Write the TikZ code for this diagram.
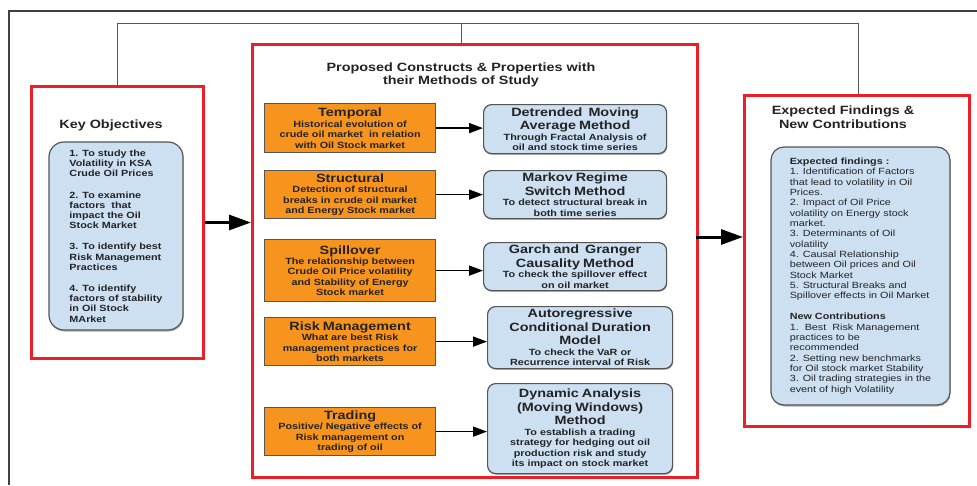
\documentclass[tikz,border=0pt]{standalone}
\usepackage{fontspec}
\setmainfont{Liberation Sans}[FakeStretch=1.2]
\usetikzlibrary{arrows.meta,shadows}

\definecolor{framered}{RGB}{236,30,38}
\definecolor{boxorange}{RGB}{247,148,30}
\definecolor{boxblue}{RGB}{205,224,242}
\definecolor{edgegray}{RGB}{85,85,85}
\definecolor{ink}{RGB}{35,35,35}

\tikzset{
  redbox/.style={draw=framered, line width=3pt, anchor=north west, inner sep=0pt},
  orangebox/.style={draw=edgegray, fill=boxorange, line width=1.2pt, anchor=north west,
    minimum width=171, inner sep=1pt, text width=167, align=center, text=ink,
    font=\fontsize{9}{10.4}\selectfont\bfseries},
  methodbox/.style={draw=edgegray, fill=boxblue, line width=1.2pt, rounded corners=8pt,
    anchor=north west, inner sep=1pt, text width=178, align=center, text=ink,
    font=\fontsize{9}{10.5}\selectfont\bfseries,
    drop shadow={shadow xshift=0.6pt, shadow yshift=-1.2pt, opacity=0.45, fill=black!70}},
  listbox/.style={draw=edgegray, fill=boxblue, line width=1.2pt, text=ink,
    drop shadow={shadow xshift=0.6pt, shadow yshift=-1.5pt, opacity=0.45, fill=black!70}},
  heading/.style={text=ink, align=center, inner sep=0pt, font=\fontsize{12}{13.5}\selectfont\bfseries},
  smallarrow/.style={draw=black, line width=1.6pt, -{Triangle[length=14pt,width=10pt]}},
  bigarrow/.style={draw=black, line width=3pt, -{Triangle[length=22pt,width=15pt]}},
  bus/.style={draw=edgegray, line width=1pt},
  outerframe/.style={draw=black!75, line width=1.5pt}
}
\newcommand{\boxtitle}[1]{{\fontsize{12}{13.5}\selectfont #1\par}}

\begin{document}
\begin{tikzpicture}[x=1pt,y=-1pt]
\useasboundingbox (0,0) rectangle (977,485);

% page frame, open to the right and bottom
\draw[outerframe] (9,485) -- (9,11) -- (977,11);

% the three main panels
\node[redbox, minimum width=172, minimum height=272] (keyobj) at (30,85) {};
\node[redbox, minimum width=445, minimum height=433] (constructs) at (251,43) {};
\node[redbox, minimum width=225, minimum height=331] (findings) at (743,94) {};

% panel headings
\node[heading] (keytitle) at (111,125) {Key Objectives};
\node[heading] (contitle) at (461,75) {Proposed Constructs \& Properties with\\their Methods of Study};
\node[heading] (findtitle) at (843,117) {Expected Findings \&\\New Contributions};

% objectives list
\node[listbox, rounded corners=15pt, minimum width=134, minimum height=188, align=left,
  font=\fontsize{9}{10.2}\selectfont\bfseries] (objlist) at (116,236)
  {1. To study the\\Volatility in KSA\\Crude Oil Prices\\[11pt]
   2. To examine\\factors\ \ that\\impact the Oil\\Stock Market\\[11pt]
   3. To identify best\\Risk Management\\Practices\\[11pt]
   4. To identify\\factors of stability\\in Oil Stock\\MArket};

% findings list
\node[listbox, rounded corners=13pt, minimum width=179, minimum height=258, align=left,
  font=\fontsize{9}{10.35}\selectfont] (findlist) at (860.5,276)
  {\textbf{Expected findings :}\\1. Identification of Factors\\that lead to volatility in Oil\\Prices.\\
   2. Impact of Oil Price\\volatility on Energy stock\\market.\\
   3. Determinants of Oil\\volatility\\
   4. Causal Relationship\\between Oil prices and Oil\\Stock Market\\
   5. Structural Breaks and\\Spillover effects in Oil Market\\[10.6pt]
   \textbf{New Contributions}\\1.\ \ Best\ \ Risk Management\\practices to be\\recommended\\
   2. Setting new benchmarks\\for Oil stock market Stability\\
   3. Oil trading strategies in the\\event of high Volatility};

% constructs
\node[orangebox, minimum height=49] (temporal) at (264,103)
  {\boxtitle{Temporal}Historical evolution of\\crude oil market\ \ in relation\\with Oil Stock market};
\node[orangebox, minimum height=48] (structural) at (264,170)
  {\boxtitle{Structural}Detection of structural\\breaks in crude oil market\\and Energy Stock market};
\node[orangebox, minimum height=62] (spillover) at (264,239)
  {\boxtitle{Spillover}The relationship between\\Crude Oil Price volatility\\and Stability of Energy\\Stock market};
\node[orangebox, minimum height=48] (risk) at (264,317)
  {\boxtitle{Risk Management}What are best Risk\\management practices for\\both markets};
\node[orangebox, minimum height=48] (trading) at (264,407)
  {\boxtitle{Trading}Positive/ Negative effects of\\Risk management on\\trading of oil};

% methods of study
\node[methodbox, minimum width=183, minimum height=49] (detrended) at (483,104)
  {\boxtitle{Detrended\ \ Moving\\Average Method}Through Fractal Analysis of\\oil and stock time series};
\node[methodbox, minimum width=183, minimum height=48] (markov) at (483,170)
  {\boxtitle{Markov Regime\\Switch Method}To detect structural break in\\both time series};
\node[methodbox, minimum width=183, minimum height=48] (garch) at (483,242)
  {\boxtitle{Garch and\ \ Granger\\Causality Method}To check the spillover effect\\on oil market};
\node[methodbox, minimum width=185, minimum height=62] (acd) at (487,306)
  {\boxtitle{Autoregressive\\Conditional Duration\\Model}To check the VaR or\\Recurrence interval of Risk};
\node[methodbox, minimum width=185, minimum height=90] (dynamic) at (487,383)
  {\boxtitle{Dynamic Analysis\\(Moving Windows)\\Method}To establish a trading\\strategy for hedging out oil\\production risk and study\\its impact on stock market};

% construct -> method arrows
\draw[smallarrow] (temporal.east) -- (temporal.east -| detrended.west);
\draw[smallarrow] (structural.east) -- (structural.east -| markov.west);
\draw[smallarrow] (spillover.east) -- (spillover.east -| garch.west);
\draw[smallarrow] (risk.east) -- (risk.east -| acd.west);
\draw[smallarrow] (trading.east) -- (trading.east -| dynamic.west);

% flow between panels
\coordinate (outR) at (696,237);
\draw[bigarrow] (keyobj.east) -- (keyobj.east -| constructs.west);
\draw[bigarrow] (outR) -- (outR -| findings.west);

% bracket joining the three panels
\coordinate (busL) at (117,23);
\coordinate (busM) at (461,23);
\coordinate (busR) at (858,23);
\draw[bus] (busL |- keyobj.north) -- (busL) -- (busR) -- (busR |- findings.north);
\draw[bus] (busM) -- (busM |- constructs.north);
\end{tikzpicture}
\end{document}
